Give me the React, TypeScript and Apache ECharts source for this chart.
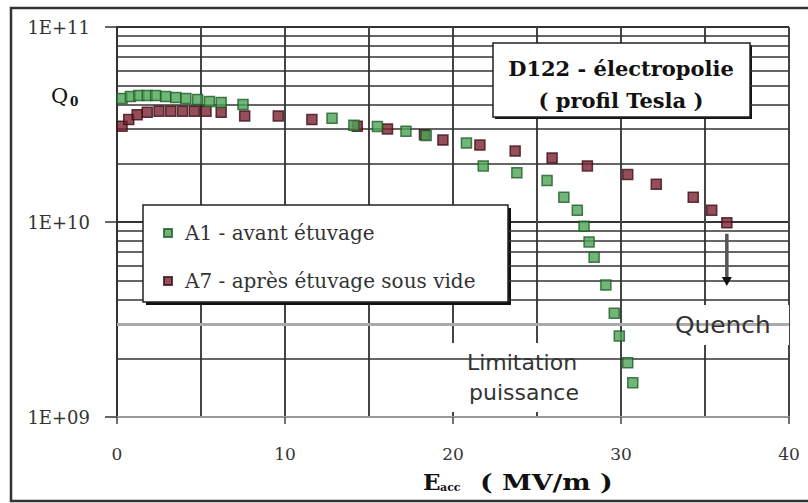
import React, { useEffect, useRef } from "react";
import * as echarts from "echarts";

// ---- data ----
const A1_NAME = "A1 - avant étuvage";
const A7_NAME = "A7 - après étuvage sous vide";

const a1Eacc = [0.3, 0.8, 1.3, 1.8, 2.3, 2.9, 3.5, 4.1, 4.8, 5.5, 6.2, 7.5, 12.8, 14.1, 15.5, 17.2, 18.4, 20.8, 21.8, 23.8, 25.6, 26.6, 27.4, 27.8, 28.1, 28.4, 29.1, 29.6, 29.9, 30.4, 30.7];
const a1Q0 = [4.3e10, 4.4e10, 4.45e10, 4.45e10, 4.45e10, 4.4e10, 4.35e10, 4.3e10, 4.25e10, 4.15e10, 4.1e10, 4.0e10, 3.4e10, 3.13e10, 3.09e10, 2.92e10, 2.78e10, 2.54e10, 1.94e10, 1.79e10, 1.63e10, 1.34e10, 1.15e10, 9.5e9, 7.9e9, 6.6e9, 4.75e9, 3.4e9, 2.6e9, 1.9e9, 1.5e9];

const a7Eacc = [0.3, 0.7, 1.2, 1.8, 2.5, 3.2, 3.9, 4.6, 5.3, 6.2, 7.6, 9.6, 11.6, 14.3, 16.1, 18.3, 19.4, 21.6, 23.7, 25.9, 28.0, 30.4, 32.1, 34.3, 35.4, 36.3];
const a7Q0 = [3.1e10, 3.35e10, 3.55e10, 3.65e10, 3.7e10, 3.7e10, 3.7e10, 3.7e10, 3.7e10, 3.65e10, 3.5e10, 3.5e10, 3.35e10, 3.1e10, 3.0e10, 2.8e10, 2.63e10, 2.48e10, 2.31e10, 2.13e10, 1.94e10, 1.75e10, 1.56e10, 1.34e10, 1.15e10, 9.9e9];

const xMin = 0;
const xMax = 40;
const xStep = 10;
const yMin = 1e9;
const yMax = 1e11;
const yTickLabels = ["1E+09", "1E+10", "1E+11"];
const yMinorGrid = [2e9, 3e9, 4e9, 5e9, 6e9, 7e9, 8e9, 9e9, 2e10, 3e10, 4e10, 5e10, 6e10, 7e10, 8e10, 9e10];
const quenchArrowX = 36.3;
const quenchArrowFrom = 8.7e9;
const quenchArrowTo = 4.7e9;

const TITLE_LINES = ["D122 - électropolie", "( profil Tesla )"];

const SERIF = "'DejaVu Serif', serif";
const SANS = "'DejaVu Sans', sans-serif";

function boxWithShadow(x: number, y: number, w: number, h: number, sh: number, z: number) {
  return [
    { type: "rect", z, shape: { x: x + sh, y: y + sh, width: w, height: h }, style: { fill: "#111" } },
    { type: "rect", z: z + 1, shape: { x, y, width: w, height: h }, style: { fill: "#fff", stroke: "#222", lineWidth: 1.5 } },
  ];
}

function txt(text: string, x: number, y: number, size: number, family: string, weight: string, align: string, z: number, color = "#222", scaleX = 1) {
  return {
    type: "text",
    z,
    x,
    y,
    scaleX,
    style: {
      text,
      fill: color,
      fontSize: size,
      fontFamily: family,
      fontWeight: weight,
      textAlign: align,
      align,
      textVerticalAlign: "middle",
      verticalAlign: "middle",
    },
  };
}

export default function App() {
  const ref = useRef<HTMLDivElement>(null);

  useEffect(() => {
    document.body.style.margin = "0";
    if (!ref.current) return;
    const chart = echarts.init(ref.current, undefined, { renderer: "svg" });

    const a1Data = a1Eacc.map((x, i) => [x, a1Q0[i]]);
    const a7Data = a7Eacc.map((x, i) => [x, a7Q0[i]]);

    const option: any = {
      animation: false,
      backgroundColor: "#fff",
      grid: { left: 117, right: 19, top: 27, bottom: 86, containLabel: false },
      xAxis: {
        type: "value",
        min: xMin,
        max: xMax,
        interval: xStep,
        axisLine: { show: true, lineStyle: { color: "#999", width: 2 } },
        axisTick: { show: true, length: 7, lineStyle: { color: "#444", width: 1.5 } },
        axisLabel: { margin: 28, color: "#333", fontSize: 17, fontFamily: SERIF },
        splitLine: { show: true, lineStyle: { color: "#444", width: 2 } },
        minorTick: { show: false, splitNumber: 2 },
        minorSplitLine: { show: true, lineStyle: { color: "#444", width: 2 } },
      },
      yAxis: {
        type: "log",
        logBase: 10,
        min: yMin,
        max: yMax,
        axisLine: { show: true, onZero: false, lineStyle: { color: "#333", width: 2 } },
        axisTick: { show: true, length: 12, lineStyle: { color: "#333", width: 1.5 } },
        axisLabel: {
          margin: 27,
          color: "#333",
          fontSize: 18,
          fontFamily: SERIF,
          formatter: (v: number) => yTickLabels[Math.round(Math.log10(v)) - 9] ?? "",
        },
        splitLine: { show: true, lineStyle: { color: "#333", width: 2 } },
      },
      legend: {
        show: true,
        orient: "vertical",
        left: 163,
        top: 223,
        padding: 0,
        itemWidth: 8,
        itemHeight: 8,
        itemGap: 28,
        z: 10,
        selectedMode: false,
        textStyle: { fontFamily: SERIF, fontSize: 20, color: "#333", lineHeight: 18, padding: [0, 0, 0, 8] },
        data: [A1_NAME, A7_NAME],
      },
      graphic: [
        // outer frame
        { type: "rect", z: 0, shape: { x: 11, y: 8, width: 810, height: 493 }, style: { fill: "none", stroke: "#333", lineWidth: 2.5 } },
        // title box
        ...boxWithShadow(493, 43, 257, 74, 2, 5),
        txt(TITLE_LINES[0], 621, 68, 21, SERIF, "bold", "center", 8, "#111"),
        txt(TITLE_LINES[1], 621, 100, 21, SERIF, "bold", "center", 8, "#111"),
        // legend box
        ...boxWithShadow(143, 205, 365, 97, 3, 5),
        // Quench label
        { type: "rect", z: 5, shape: { x: 663, y: 305, width: 126, height: 40 }, style: { fill: "#fff" } },
        txt("Quench", 675, 325, 23, SANS, "normal", "left", 8, "#333", 1.08),
        // Limitation puissance
        { type: "rect", z: 5, shape: { x: 440, y: 343, width: 165, height: 69 }, style: { fill: "#fff" } },
        txt("Limitation", 522, 362, 22, SANS, "normal", "center", 8, "#333"),
        txt("puissance", 524, 392, 22, SANS, "normal", "center", 8, "#333"),
        // Q0 axis label
        txt("Q", 51, 96, 21, SERIF, "normal", "left", 8, "#111"),
        txt("0", 70, 102, 12, SERIF, "bold", "left", 8, "#111"),
        // Eacc (MV/m) axis name
        txt("E", 423, 481, 23, SERIF, "bold", "left", 8, "#111"),
        txt("acc", 440, 487, 11, SERIF, "bold", "left", 8, "#111"),
        txt("( MV/m )", 480, 482, 22, SERIF, "bold", "left", 8, "#111", 1.22),
      ],
      series: [
        {
          name: "grid-minor",
          type: "line",
          z: 1,
          data: a1Data,
          showSymbol: false,
          symbol: "none",
          lineStyle: { width: 0, opacity: 0 },
          silent: true,
          legendHoverLink: false,
          markLine: {
            silent: true,
            symbol: ["none", "none"],
            label: { show: false },
            lineStyle: { color: "#333", width: 1.5, type: "solid" },
            data: yMinorGrid.map((v) =>
              v === 3e9
                ? { yAxis: v, lineStyle: { color: "#aaa", width: 3, type: "solid" } }
                : { yAxis: v }
            ),
          },
        },
        {
          name: A1_NAME,
          type: "scatter",
          z: 12,
          symbol: "rect",
          symbolSize: 10,
          data: a1Data,
          itemStyle: { color: "#4fa356", borderColor: "#1d5e25", borderWidth: 1.5 },
          emphasis: { disabled: true },
        },
        {
          name: A7_NAME,
          type: "scatter",
          z: 11,
          symbol: "rect",
          symbolSize: 10,
          data: a7Data,
          itemStyle: { color: "#7a2331", borderColor: "#3f0d15", borderWidth: 1.5 },
          emphasis: { disabled: true },
        },
      ],
    };

    chart.setOption(option);

    // Quench arrow, positioned through the chart's own scales
    const p1 = chart.convertToPixel({ gridIndex: 0 }, [quenchArrowX, quenchArrowFrom]) as number[];
    const p2 = chart.convertToPixel({ gridIndex: 0 }, [quenchArrowX, quenchArrowTo]) as number[];
    if (p1 && p2) {
      const head = 9;
      chart.setOption({
        graphic: [
          {
            id: "arrowLine",
            type: "line",
            z: 20,
            shape: { x1: p1[0], y1: p1[1], x2: p2[0], y2: p2[1] - head + 1 },
            style: { stroke: "#555", lineWidth: 3.5 },
          },
          {
            id: "arrowHead",
            type: "polygon",
            z: 21,
            shape: {
              points: [
                [p2[0] - 5, p2[1] - head],
                [p2[0] + 5, p2[1] - head],
                [p2[0], p2[1]],
              ],
            },
            style: { fill: "#111" },
          },
        ],
      });
    }

    return () => chart.dispose();
  }, []);

  return <div ref={ref} style={{ width: 808, height: 503 }} />;
}
